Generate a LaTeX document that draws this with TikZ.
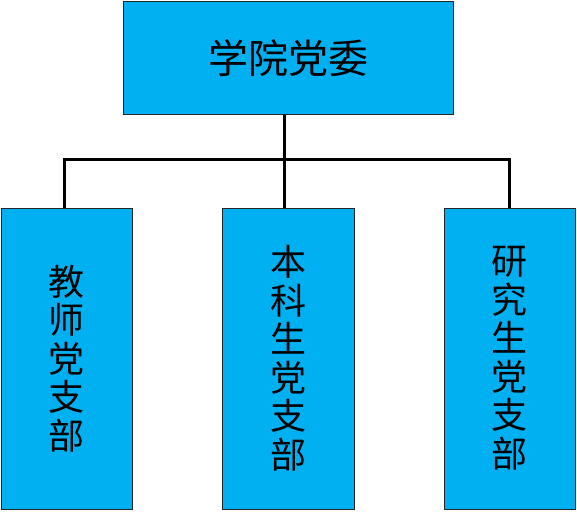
\documentclass[tikz,border=0pt]{standalone}
\usepackage{fontspec}
\newfontfamily\cjk{Noto Sans CJK SC}
\definecolor{boxblue}{HTML}{00B0F0}
\tikzset{
  orgbox/.style={draw=black!85, line width=1pt, fill=boxblue, inner sep=0pt,
    font=\cjk\fontsize{36}{38.5}\selectfont, align=center},
  link/.style={line width=3pt, black}
}
\begin{document}
\begin{tikzpicture}[x=1pt,y=1pt]
\useasboundingbox (0,0) rectangle (577,-511);
\node[orgbox, minimum width=330, minimum height=113, font=\cjk\fontsize{40}{44}\selectfont] (top) at (288,-58) {学院党委};
\node[orgbox, minimum width=131, minimum height=301] (left) at (66.5,-358.5) {教\\师\\党\\支\\部};
\node[orgbox, minimum width=132, minimum height=301] (mid) at (288,-358.5) {本\\科\\生\\党\\支\\部};
\node[orgbox, minimum width=131, minimum height=301] (right) at (509.5,-358.5) {研\\究\\生\\党\\支\\部};
\coordinate (bus) at (284,-159);
\coordinate (lj) at (64,-159);
\draw[link] (top.south -| bus) -- (mid.north -| bus);
\draw[link] (left.north -| lj) -- (lj) -- (right.north |- bus) -- (right.north);
\end{tikzpicture}
\end{document}
